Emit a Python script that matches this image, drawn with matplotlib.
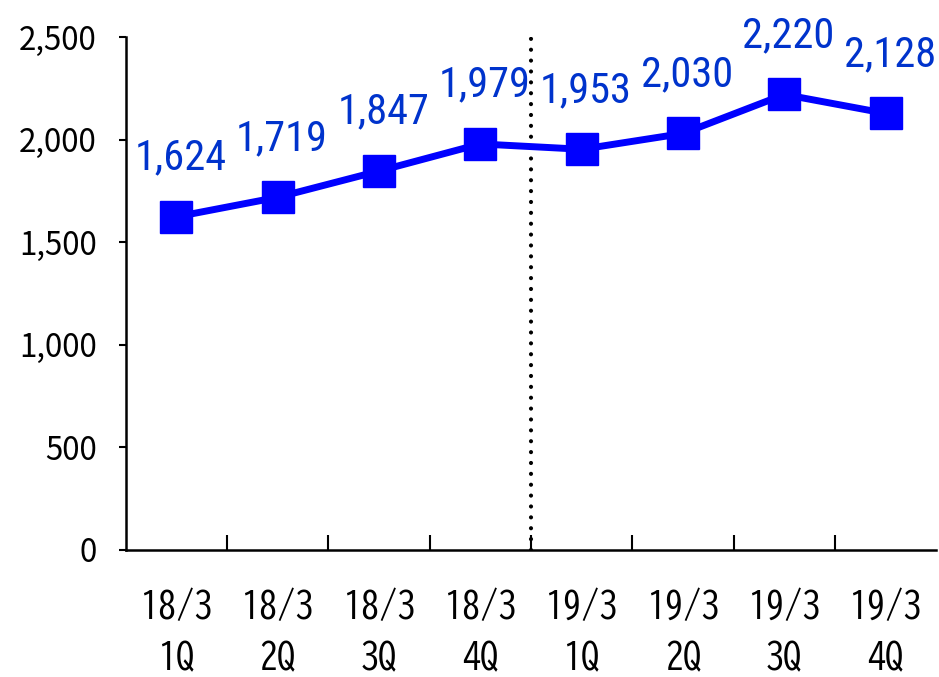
import matplotlib
matplotlib.use("Agg")
import matplotlib.pyplot as plt
from matplotlib.ticker import FuncFormatter, FixedLocator

plt.rcParams['font.family'] = ['Noto Sans CJK JP', 'DejaVu Sans']

periods = ["18/3", "18/3", "18/3", "18/3", "19/3", "19/3", "19/3", "19/3"]
quarters = ["1Q", "2Q", "3Q", "4Q", "1Q", "2Q", "3Q", "4Q"]
values = [1624, 1719, 1847, 1979, 1953, 2030, 2220, 2128]
y_ticks = [0, 500, 1000, 1500, 2000, 2500]

line_color = "#0000FF"
label_color = "#0033CC"

fig = plt.figure(figsize=(9.39, 6.77), dpi=100)
ax = fig.add_axes([0.134, 0.1876, 0.863, 0.7577])

x = list(range(len(values)))
ax.plot(x, values, color=line_color, linewidth=5, marker="s",
        markersize=23, markerfacecolor=line_color, markeredgecolor=line_color,
        zorder=3, clip_on=False)

for xi, v in zip(x, values):
    ax.annotate(f"{v:,}", (xi, v), xytext=(3, 34), textcoords="offset points",
                ha="center", va="baseline", fontsize=30.5, color=label_color,
                family=['Roboto Condensed', 'DejaVu Sans'])

# fiscal-year divider
ax.plot([3.5, 3.5], [0, 2500], color="black", linewidth=3.0,
        linestyle=(0, (0.01, 2.6)), dash_capstyle="round", zorder=2)

ax.set_xlim(-0.5, len(values) - 0.5)
ax.set_ylim(0, 2500)

ax.set_yticks(y_ticks)
ax.yaxis.set_major_formatter(FuncFormatter(lambda v, p: f"{int(v):,}"))
ax.tick_params(axis="y", direction="out", length=5, width=1.5,
               labelsize=22.5, pad=16)

ax.set_xticks(x)
ax.set_xticklabels([f"{p}\n{q}" for p, q in zip(periods, quarters)],
                   linespacing=1.6, family=['BIZ UDGothic', 'DejaVu Sans'])
ax.tick_params(axis="x", which="major", length=0, labelsize=26, pad=27)
ax.xaxis.set_minor_locator(FixedLocator([i + 0.5 for i in range(len(values) - 1)]))
ax.tick_params(axis="x", which="minor", direction="in", length=11, width=1.5)

for side in ("top", "right"):
    ax.spines[side].set_visible(False)
for side in ("left", "bottom"):
    ax.spines[side].set_linewidth(1.8)
    ax.spines[side].set_color("black")

fig.savefig("out.png", dpi=100)
